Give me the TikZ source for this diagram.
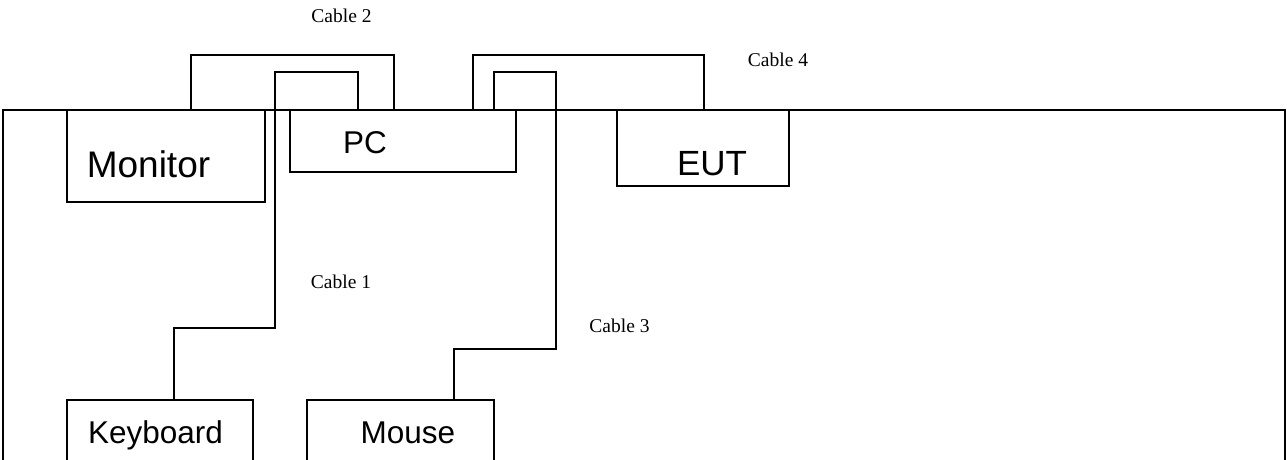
\documentclass[tikz,border=0pt]{standalone}
\usepackage{fontspec}
\setmainfont{Liberation Sans}
\newfontfamily\cabfont{Liberation Serif}
\tikzset{
  devbox/.style={draw=black, line width=1.6pt, inner sep=0pt, outer sep=0pt, rectangle},
  cable/.style={draw=black, line width=1.6pt},
  devlbl/.style={inner sep=0pt, anchor=base},
  cablbl/.style={inner sep=0pt, anchor=base, font=\cabfont\fontsize{19.5}{22}\selectfont},
}
\begin{document}
\begin{tikzpicture}[x=1pt,y=-1pt]
\useasboundingbox (0,0) rectangle (1287,459);
\clip (0,0) rectangle (1287,459);
\fill[white] (0,0) rectangle (1287,459);
% table outline
\draw[cable] (3,480) -- (3,110) -- (1285,110) -- (1285,480);
% devices
\node[devbox, minimum width=198pt, minimum height=92pt] (mon) at (166,156) {};
\node[devbox, minimum width=226pt, minimum height=62pt] (pc) at (403,141) {};
\node[devbox, minimum width=172pt, minimum height=76pt] (eut) at (703,148) {};
\node[devbox, minimum width=186pt, minimum height=70pt] (kbd) at (160,435) {};
\node[devbox, minimum width=187pt, minimum height=70pt] (mouse) at (400.5,435) {};
% device labels
\node[devlbl, font=\fontsize{37}{40}\selectfont] (monl) at (148.5,177) {Monitor};
\node[devlbl, font=\fontsize{31.5}{34}\selectfont] (pcl) at (365,153) {PC};
\node[devlbl, font=\fontsize{35}{38}\selectfont] (eutl) at (712,175) {EUT};
\node[devlbl, font=\fontsize{31.5}{34}\selectfont] (kbdl) at (155.5,443) {Keyboard};
\node[devlbl, font=\fontsize{31.5}{34}\selectfont] (mousel) at (408,443) {Mouse};
% cables
\draw[cable] ([xshift=107pt]kbd.north west) |- (275,328) |- (358,72) -- ([xshift=68pt]pc.north west);
\draw[cable] ([xshift=147pt]mouse.north west) |- (556,349) |- (494,72) -- ([xshift=204pt]pc.north west);
\draw[cable] ([xshift=124pt]mon.north west) |- (394,55) -- ([xshift=104pt]pc.north west);
\draw[cable] ([xshift=183pt]pc.north west) |- (704,55) -- ([xshift=87pt]eut.north west);
% cable labels
\node[cablbl] (c1) at (341,288) {Cable 1};
\node[cablbl] (c2) at (341.5,22) {Cable 2};
\node[cablbl] (c3) at (619.5,332) {Cable 3};
\node[cablbl] (c4) at (778,66) {Cable 4};
\end{tikzpicture}
\end{document}
